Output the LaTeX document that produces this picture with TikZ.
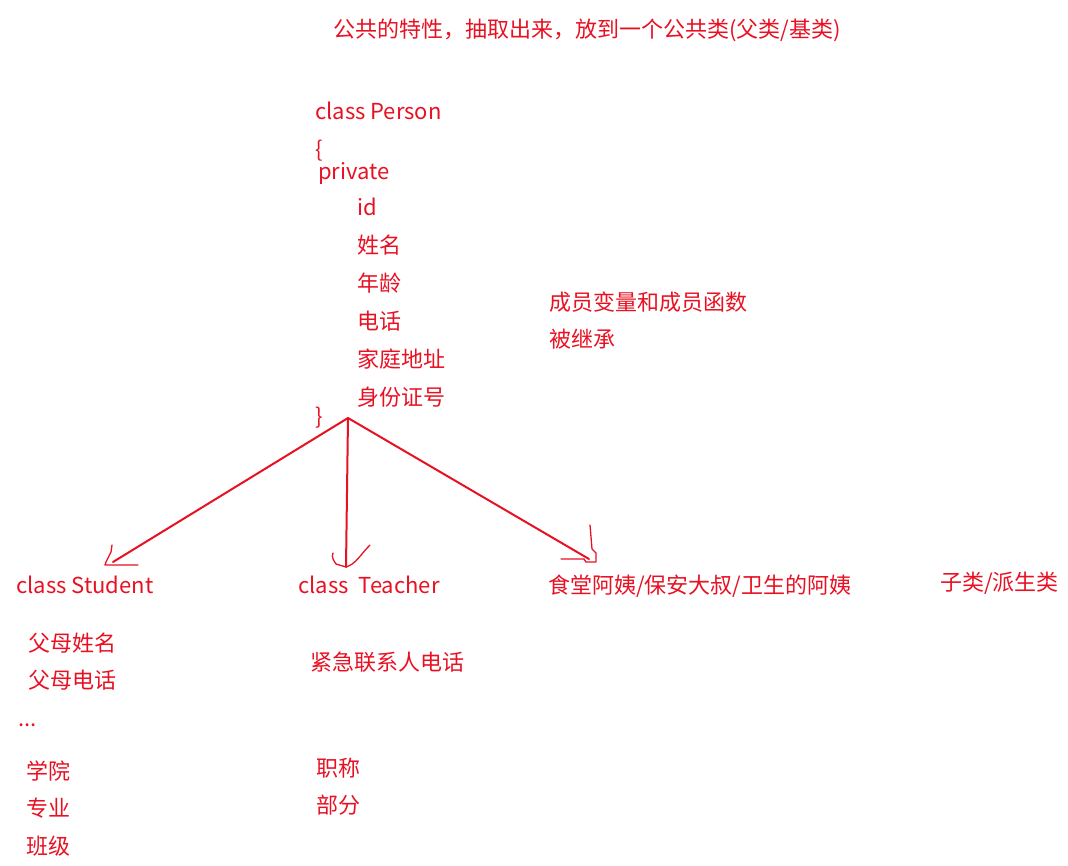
\documentclass[tikz,border=0pt]{standalone}
\usepackage{fontspec}
\setmainfont{Noto Sans CJK SC}
\definecolor{pen}{RGB}{232,17,35}
\tikzset{
  txt/.style={anchor=base west, inner sep=0pt, text=pen, font=\fontsize{22}{25}\selectfont},
  stroke/.style={draw=pen, line width=2pt, line cap=round, line join=round},
  tick/.style={draw=pen, line width=1.3pt, line cap=round, line join=round}
}
\begin{document}
\begin{tikzpicture}[x=1pt,y=-1pt]
\useasboundingbox (0,0) rectangle (1068,866);
\node[txt] (title) at (333,38) {公共的特性，抽取出来，放到一个公共类(父类/基类)};
\node[txt] (person) at (315,120) {class Person};
\node[txt] (lb) at (315,158) {\{};
\node[txt] (priv) at (318,180) {private};
\node[txt] (id) at (357,216) {id};
\node[txt] (name) at (357,254) {姓名};
\node[txt] (age) at (357,292) {年龄};
\node[txt] (tel) at (357,330) {电话};
\node[txt] (addr) at (357,368) {家庭地址};
\node[txt] (idno) at (357,406) {身份证号};
\node[txt] (rb) at (315,424) {\}};
\node[txt] (note1) at (549,311) {成员变量和成员函数};
\node[txt] (note2) at (549,348) {被继承};

\node[txt] (stu) at (16,593) {class Student};
\node[txt] (tea) at (298,593) {class\ \ Teacher};
\node[txt] (staff) at (548,593) {食堂阿姨/保安大叔/卫生的阿姨};
\node[txt] (sub) at (940,590) {子类/派生类};

\node[txt] (s1) at (28,651) {父母姓名};
\node[txt] (s2) at (28,688) {父母电话};
\node[txt] (s3) at (18,726) {...};
\node[txt] (s4) at (26,779) {学院};
\node[txt] (s5) at (26,816) {专业};
\node[txt] (s6) at (26,854) {班级};

\node[txt] (t1) at (310,670) {紧急联系人电话};
\node[txt] (t2) at (316,776) {职称};
\node[txt] (t3) at (316,813) {部分};

\coordinate (hub) at (348,418);
\coordinate (eS) at (113,562);
\coordinate (eT) at (346,567);
\coordinate (eF) at (589,559);

\draw[stroke] (hub) -- (eS);
\draw[stroke] (hub) -- (eT);
\draw[stroke] (hub) -- (eF);

% hand-drawn arrowheads
\draw[tick] ([shift={(-1,-17)}]eS) -- ([shift={(-2,-10)}]eS) -- ([shift={(-5,-4)}]eS) -- ([shift={(-7,0)}]eS) -- ([shift={(-8,3)}]eS) -- ([shift={(25,3)}]eS);
\draw[tick] ([shift={(-13,-14)}]eT) .. controls ([shift={(-15,-10)}]eT) and ([shift={(-12,-6)}]eT) .. ([shift={(-10,-3)}]eT) -- (eT) .. controls ([shift={(10,-3)}]eT) and ([shift={(14,-12)}]eT) .. ([shift={(24,-22)}]eT);
\draw[tick] ([shift={(1,-34)}]eF) -- ([shift={(2,-22)}]eF) -- ([shift={(3,-10)}]eF) -- ([shift={(7,-6)}]eF) -- ([shift={(7,3)}]eF) -- ([shift={(-3,3)}]eF) -- ([shift={(-5,0)}]eF) -- ([shift={(-28,0)}]eF);
\end{tikzpicture}
\end{document}
